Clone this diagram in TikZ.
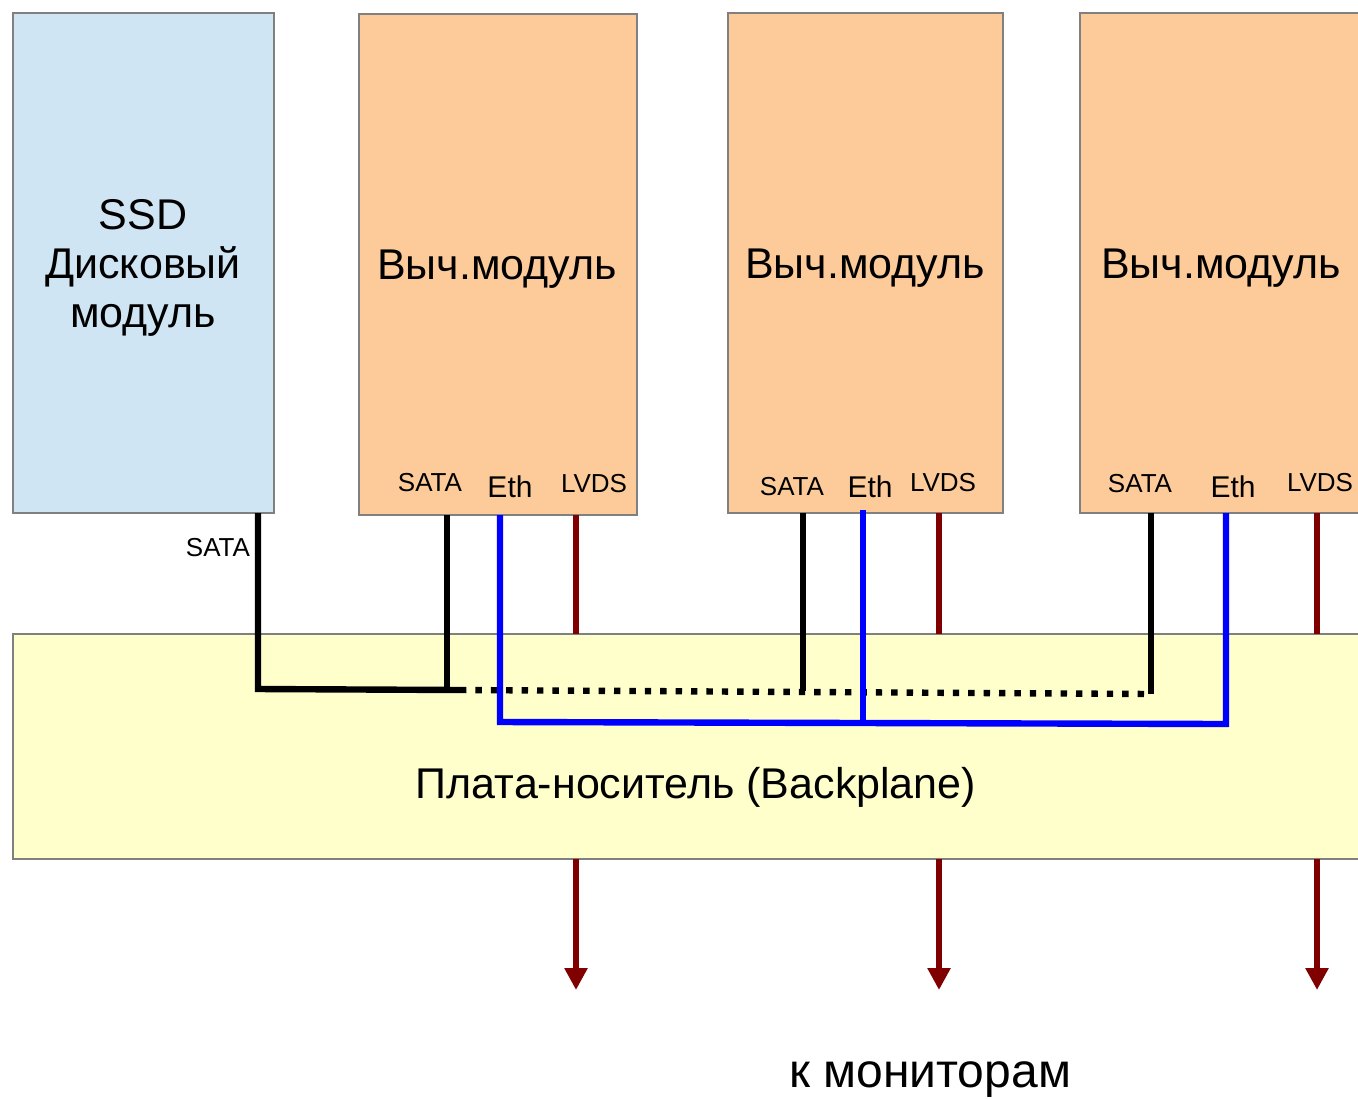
\documentclass[tikz,border=0pt]{standalone}
\usepackage{fontspec}
\setmainfont{Liberation Sans}
\usetikzlibrary{fit,arrows.meta}
\definecolor{ssdblue}{HTML}{CFE5F3}
\definecolor{modorange}{HTML}{FDCA99}
\definecolor{bpyellow}{HTML}{FFFFCC}
\definecolor{boxgray}{HTML}{808080}
\definecolor{lvdsred}{HTML}{800000}
\definecolor{ethblue}{HTML}{0000FF}
\tikzset{
  boxstyle/.style={draw=boxgray, line width=1pt, inner sep=0pt},
  bigtext/.style={font=\fontsize{21.5pt}{24.5pt}\selectfont, align=center, inner sep=0pt},
  montext/.style={font=\fontsize{24pt}{27pt}\selectfont, align=center, inner sep=0pt},
  porttext/.style={font=\fontsize{13pt}{15pt}\selectfont, inner sep=0pt},
  ethtext/.style={font=\fontsize{15pt}{17pt}\selectfont, inner sep=0pt},
  sataline/.style={line width=3.2pt, black},
  ethline/.style={line width=3.2pt, ethblue},
  lvdsline/.style={line width=3.2pt, lvdsred},
  dotline/.style={line width=3.2pt, black, dash pattern=on 3.2pt off 4.5pt},
}
\begin{document}
\begin{tikzpicture}[x=0.5pt,y=-0.5pt]
\useasboundingbox (0,0) rectangle (1358,1098);
\clip (0,0) rectangle (1358,1098);
% boxes
\node[boxstyle, fill=ssdblue, fit={(13,13)(274,513)}] (ssd) {};
\node[boxstyle, fill=modorange, fit={(359,14)(637,515)}] (m1) {};
\node[boxstyle, fill=modorange, fit={(728,13)(1003,513)}] (m2) {};
\node[boxstyle, fill=modorange, fit={(1080,13)(1364,513)}] (m3) {};
\node[boxstyle, fill=bpyellow, fit={(13,634)(1364,859)}] (bp) {};
% texts
\node[bigtext] (ssdlabel) at (143,268) {SSD\\Дисковый\\модуль};
\node[bigtext] (m1label) at (497,269) {Выч.модуль};
\node[bigtext] (m2label) at (865,268) {Выч.модуль};
\node[bigtext] (m3label) at (1221,268) {Выч.модуль};
\node[bigtext] (bplabel) at (696,787) {Плата-носитель (Backplane)};
\node[montext] (mon) at (930,1080) {к мониторам};
\node[porttext] (ssdsata) at (218,548) {SATA};
\node[porttext] (s1) at (430,483) {SATA};
\node[ethtext] (e1) at (510,487) {Eth};
\node[porttext] (l1) at (594,484) {LVDS};
\node[porttext] (s2) at (792,487) {SATA};
\node[ethtext] (e2) at (870,487) {Eth};
\node[porttext] (l2) at (943,483) {LVDS};
\node[porttext] (s3) at (1140,484) {SATA};
\node[ethtext] (e3) at (1233,487) {Eth};
\node[porttext] (l3) at (1320,483) {LVDS};
% coordinates
\coordinate (ssdp) at (258,513);
\coordinate (j0) at (258,689);
\coordinate (s1p) at (447,515);
\coordinate (j1) at (447,689);
\coordinate (j1b) at (460,690);
\coordinate (s2p) at (803,513);
\coordinate (j2) at (803,691);
\coordinate (s3p) at (1151,513);
\coordinate (j3) at (1151,694);
\coordinate (e1p) at (500,515);
\coordinate (k1) at (500,722);
\coordinate (e2p) at (863,510);
\coordinate (k2) at (863,723);
\coordinate (e3p) at (1226,513);
\coordinate (k3) at (1226,724);
\coordinate (l1p) at (576,515);
\coordinate (l1b) at (576,634);
\coordinate (l2p) at (939,513);
\coordinate (l2b) at (939,634);
\coordinate (l3p) at (1317,513);
\coordinate (l3b) at (1317,634);
\coordinate (a1s) at (576,859);
\coordinate (a1e) at (576,990);
\coordinate (a2s) at (939,859);
\coordinate (a2e) at (939,990);
\coordinate (a3s) at (1317,859);
\coordinate (a3e) at (1317,990);
% SATA
\draw[dotline] (j1b) -- (j3);
\draw[sataline] (ssdp) -- (j0) -- (j1b);
\draw[sataline] (s1p) -- (j1);
\draw[sataline] (s2p) -- (j2);
\draw[sataline] (s3p) -- (j3);
% Eth
\draw[ethline] (e1p) -- (k1) -- (k3) -- (e3p);
\draw[ethline] (e2p) -- (k2);
% LVDS
\draw[lvdsline] (l1p) -- (l1b);
\draw[lvdsline] (l2p) -- (l2b);
\draw[lvdsline] (l3p) -- (l3b);
\foreach \s/\e in {a1s/a1e,a2s/a2e,a3s/a3e}
  \draw[lvdsline, -{Triangle[width=11pt,length=11pt]}] (\s) -- (\e);
\end{tikzpicture}
\end{document}
